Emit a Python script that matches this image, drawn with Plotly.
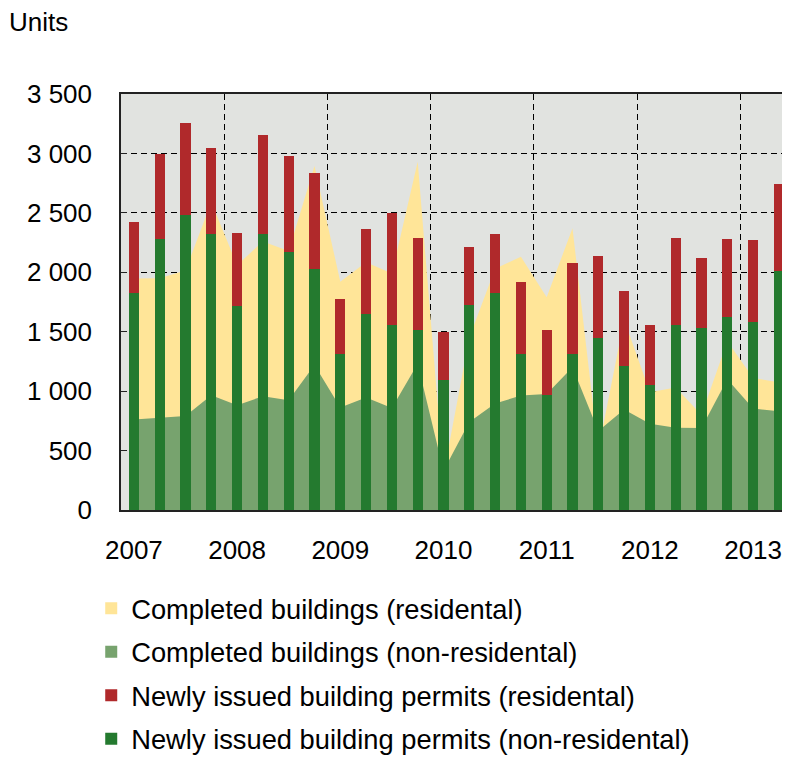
import plotly.graph_objects as go

# ---------------- data ----------------
quarters = [f"{y} Q{q}" for y in range(2007, 2014) for q in range(1, 5)][:26]

completed_residential = [1948, 1950, 2015, 2590, 2060, 2260, 2180, 2895, 1920, 2085,
                         1990, 2930, 300, 1450, 2030, 2130, 1790, 2370, 500, 1600,
                         990, 1030, 800, 1420, 1110, 1075]
completed_nonresidential = [761, 775, 790, 965, 881, 957, 924, 1220, 862, 946,
                            858, 1230, 330, 741, 895, 963, 975, 1200, 665, 845,
                            725, 692, 690, 1100, 855, 830]
permits_nonresidential = [1823, 2277, 2479, 2325, 1714, 2325, 2168, 2025, 1315, 1646,
                          1556, 1514, 1094, 1722, 1823, 1315, 968, 1315, 1450, 1214,
                          1049, 1556, 1534, 1624, 1579, 2014]
permits_residential = [600, 721, 777, 721, 619, 833, 810, 808, 463, 721,
                       946, 777, 406, 491, 502, 600, 546, 766, 684, 631,
                       510, 735, 589, 653, 690, 732]

year_labels = ["2007", "2008", "2009", "2010", "2011", "2012", "2013"]
y_tick_values = [0, 500, 1000, 1500, 2000, 2500, 3000, 3500]
y_tick_labels = ["0", "500", "1 000", "1 500", "2 000", "2 500", "3 000", "3 500"]

series_names = ["Completed buildings (residental)",
                "Completed buildings (non-residental)",
                "Newly issued building permits (residental)",
                "Newly issued building permits (non-residental)"]

# ---------------- style ----------------
YELLOW = "#FFE598"
AREA_GREEN = "#77A36E"
RED = "#B0292B"
DARK_GREEN = "#247A2F"
PLOT_BG = "#E1E3E0"
FONT = "Liberation Sans, Arial, sans-serif"

x = list(range(len(quarters)))
year_pos = [quarters.index(f"{y} Q1") for y in year_labels]
year_bounds = [p - 0.5 for p in year_pos[1:]]
xrange_ = [-0.5, 25.43]

fig = go.Figure()

# areas on base axes
fig.add_trace(go.Scatter(x=x, y=completed_residential, mode="lines", fill="tozeroy",
                         line=dict(width=0, color=YELLOW), fillcolor=YELLOW,
                         showlegend=False, hoverinfo="skip"))
fig.add_trace(go.Scatter(x=x, y=completed_nonresidential, mode="lines", fill="tozeroy",
                         line=dict(width=0, color=AREA_GREEN), fillcolor=AREA_GREEN,
                         showlegend=False, hoverinfo="skip"))

# bars on overlaid axes so they sit above the areas
fig.add_trace(go.Bar(x=x, y=permits_nonresidential, marker=dict(color=DARK_GREEN, line=dict(width=0)),
                     width=0.4, xaxis="x2", yaxis="y2", showlegend=False))
fig.add_trace(go.Bar(x=x, y=permits_residential, marker=dict(color=RED, line=dict(width=0)),
                     width=0.4, xaxis="x2", yaxis="y2", showlegend=False))

# legend entries
for name, col, rank in zip(series_names, [YELLOW, AREA_GREEN, RED, DARK_GREEN], [1, 2, 3, 4]):
    fig.add_trace(go.Scatter(x=[None], y=[None], mode="markers", name=name,
                             legendgroup=f"g{rank}",
                             marker=dict(symbol="square", size=20, color=col),
                             legendrank=rank))

# the page body adds an 8px offset, so the figure is 8px smaller on each side
fig.update_layout(
    width=782, height=750,
    margin=dict(l=113, r=0, t=86, b=248, autoexpand=False),
    paper_bgcolor="white",
    plot_bgcolor=PLOT_BG,
    barmode="stack",
    font=dict(family=FONT, size=26, color="black"),
    showlegend=True,
    legend=dict(x=-0.0445, xanchor="left", y=-0.178, yanchor="top",
                font=dict(family=FONT, size=27.3, color="black"),
                traceorder="grouped", itemsizing="constant",
                bgcolor="rgba(0,0,0,0)", tracegroupgap=5),
    xaxis=dict(range=xrange_, tickvals=year_pos, ticktext=year_labels,
               showgrid=False, zeroline=False, ticks="", automargin=False,
               showline=True, linecolor="#222", linewidth=1.5, mirror=True,
               ticklabelstandoff=16,
               minor=dict(tickvals=year_bounds, showgrid=True, gridcolor="black",
                          gridwidth=1.2, griddash="6px,4px", ticks="")),
    yaxis=dict(range=[0, 3500], tickvals=y_tick_values, ticktext=y_tick_labels,
               showgrid=True, gridcolor="black", gridwidth=1.2, griddash="6px,4px",
               zeroline=False, ticks="inside", ticklen=6, tickcolor="#222",
               showline=True, linecolor="#222", linewidth=1.5, mirror=False,
               automargin=False, ticklabelstandoff=22),
    xaxis2=dict(overlaying="x", range=xrange_, visible=False),
    yaxis2=dict(overlaying="y", range=[0, 3500], visible=False),
    annotations=[dict(text="Units", xref="paper", yref="paper", x=-0.171, y=1.173,
                      xanchor="left", yanchor="middle", showarrow=False,
                      font=dict(family=FONT, size=26, color="black"))],
)

fig.write_html("out.html")
